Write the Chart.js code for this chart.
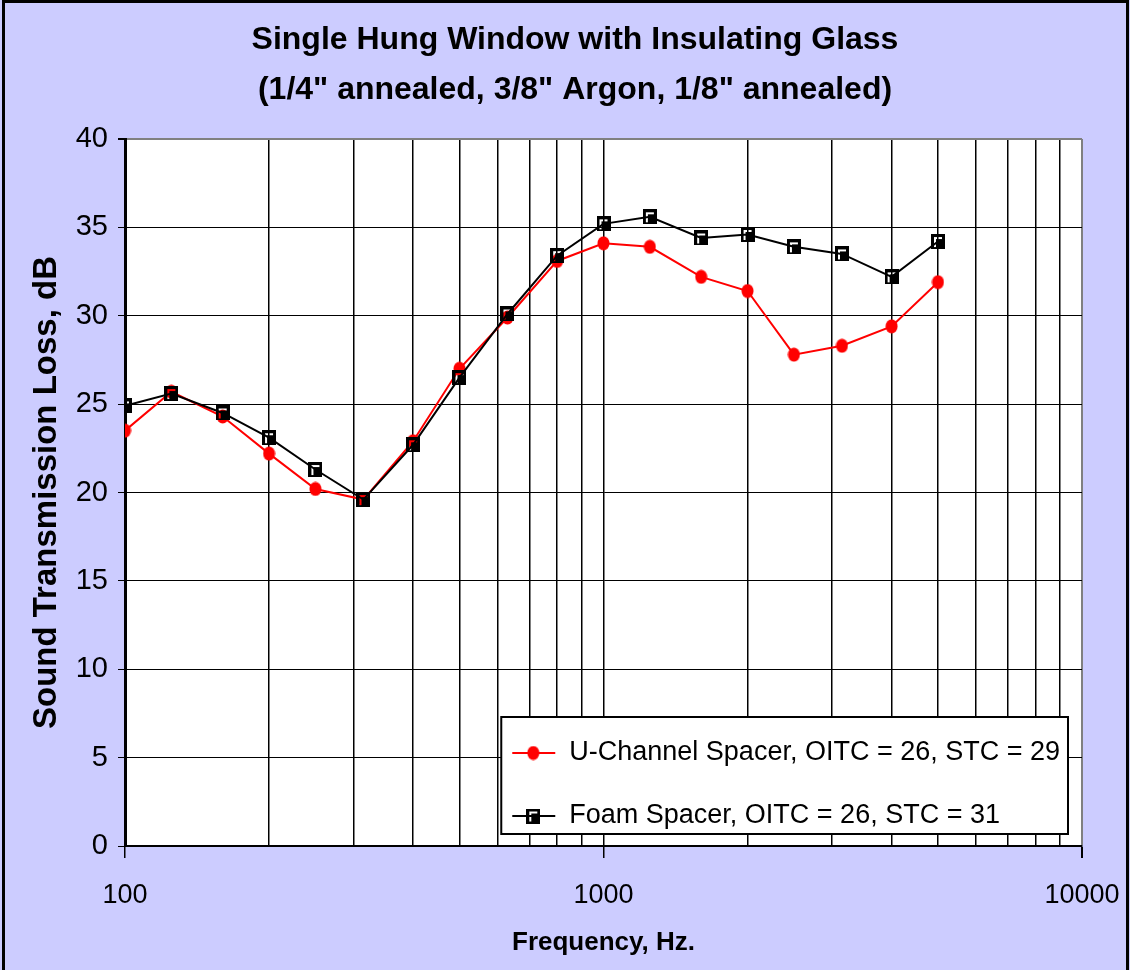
<!DOCTYPE html>
<html>
<head>
<meta charset="utf-8">
<title>Single Hung Window with Insulating Glass</title>
<script src="https://cdn.jsdelivr.net/npm/chart.js@4.4.1/dist/chart.umd.min.js"></script>
<style>
  html, body { margin: 0; padding: 0; background: #ffffff; }
  canvas { display: block; }
</style>
</head>
<body>
<canvas id="stlChart" width="1130" height="970"></canvas>
<script>
// third-octave band centre frequencies, Hz
const freqs = [100, 125, 160, 200, 250, 315, 400, 500, 630, 800, 1000, 1250, 1600, 2000, 2500, 3150, 4000, 5000];
// sound transmission loss, dB
const uChannel = [23.5, 25.7, 24.3, 22.2, 20.2, 19.6, 22.9, 27.0, 29.9, 33.1, 34.1, 33.9, 32.2, 31.4, 27.8, 28.3, 29.4, 31.9];
const foam = [24.9, 25.6, 24.5, 23.1, 21.3, 19.6, 22.7, 26.5, 30.1, 33.4, 35.2, 35.6, 34.4, 34.6, 33.9, 33.5, 32.2, 34.2];

const seriesNames = ['U-Channel Spacer, OITC = 26, STC = 29', 'Foam Spacer, OITC = 26, STC = 31'];
const gridFreqs = [100, 200, 300, 400, 500, 600, 700, 800, 900, 1000, 2000, 3000, 4000, 5000, 6000, 7000, 8000, 9000, 10000];
const labelFreqs = [100, 1000, 10000];

const FONT = '"Liberation Sans", Arial, sans-serif';
Chart.defaults.font.family = FONT;
Chart.defaults.color = '#000';

// marker pictures (red ellipse, black square with a see-through corner)
function redDot() {
  const c = document.createElement('canvas');
  c.width = 13; c.height = 15;
  const x = c.getContext('2d');
  x.fillStyle = '#ff0000';
  x.beginPath();
  x.ellipse(6.5, 7.5, 6, 7, 0, 0, Math.PI * 2);
  x.fill();
  return c;
}
function blackSquare() {
  const c = document.createElement('canvas');
  c.width = 14; c.height = 15;
  const x = c.getContext('2d');
  x.fillStyle = '#000';
  x.fillRect(0, 0, 14, 15);
  x.clearRect(3, 3, 8, 2);
  x.clearRect(3, 3, 2, 10);
  return c;
}
const redMarker = redDot();
const squareMarker = blackSquare();

function toPoints(ys) {
  return freqs.map((f, i) => ({ x: f, y: ys[i] }));
}

// white plot area, lavender page and outer frame
const backdrop = {
  id: 'backdrop',
  afterLayout(chart) {
    // the original title sits a bit right of the canvas centre
    if (chart.titleBlock) {
      chart.titleBlock.left += 34;
      chart.titleBlock.right += 34;
    }
  },
  beforeDraw(chart) {
    const { ctx, chartArea: a, width, height } = chart;
    ctx.save();
    ctx.fillStyle = '#ccccff';
    ctx.fillRect(0, 0, width, height);
    ctx.fillStyle = '#ffffff';
    ctx.fillRect(a.left, a.top, a.right - a.left, a.bottom - a.top);
    ctx.restore();
  },
  afterDraw(chart) {
    const { ctx, width, height } = chart;
    ctx.save();
    ctx.strokeStyle = '#000';
    ctx.lineWidth = 3;
    ctx.strokeRect(3.5, 1.5, width - 6, height);
    ctx.restore();
  }
};

// legend box inside the plot, bottom right
const legendBox = {
  id: 'legendBox',
  afterDatasetsDraw(chart) {
    const { ctx, chartArea } = chart;
    const sets = chart.data.datasets;
    ctx.save();
    ctx.font = '27px ' + FONT;
    const textW = Math.max(...sets.map(d => ctx.measureText(d.label).width));
    const w = 68 + textW + 8;
    const h = 117;
    const x = chartArea.right - 14 - w;
    const y = chartArea.bottom - 12 - h;
    ctx.fillStyle = '#fff';
    ctx.fillRect(x, y, w, h);
    ctx.strokeStyle = '#000';
    ctx.lineWidth = 2;
    ctx.strokeRect(x, y, w, h);
    sets.forEach((d, i) => {
      const ry = y + 36 + i * 63;
      ctx.strokeStyle = d.borderColor;
      ctx.lineWidth = d.borderWidth;
      ctx.beginPath();
      ctx.moveTo(x + 11, ry);
      ctx.lineTo(x + 54, ry);
      ctx.stroke();
      const m = d.pointStyle;
      ctx.drawImage(m, x + 32 - m.width / 2, ry - m.height / 2);
      ctx.fillStyle = '#000';
      ctx.textBaseline = 'middle';
      ctx.textAlign = 'left';
      ctx.fillText(d.label, x + 68, ry);
    });
    ctx.restore();
  }
};

const ctx = document.getElementById('stlChart').getContext('2d');

new Chart(ctx, {
  type: 'line',
  data: {
    datasets: [{
      label: seriesNames[0],
      data: toPoints(uChannel),
      borderColor: '#ff0000',
      backgroundColor: '#ff0000',
      borderWidth: 2,
      pointStyle: redMarker,
      order: 2
    }, {
      label: seriesNames[1],
      data: toPoints(foam),
      borderColor: '#000000',
      backgroundColor: '#000000',
      borderWidth: 2,
      pointStyle: squareMarker,
      order: 1
    }]
  },
  options: {
    responsive: false,
    animation: false,
    events: [],
    layout: { padding: { left: 0, right: 48, top: 0, bottom: 0 } },
    plugins: {
      legend: { display: false },
      tooltip: { enabled: false },
      title: {
        display: true,
        text: ['Single Hung Window with Insulating Glass', '(1/4" annealed, 3/8" Argon, 1/8" annealed)'],
        color: '#000',
        font: { size: 32, weight: 'bold', lineHeight: 50 / 32 },
        padding: { top: 15, bottom: 24 }
      }
    },
    scales: {
      x: {
        type: 'logarithmic',
        min: 100,
        max: 10000,
        afterBuildTicks(scale) {
          scale.ticks = gridFreqs.map(v => ({ value: v, major: labelFreqs.includes(v) }));
        },
        afterFit(scale) {
          scale.height = 124;
          scale.paddingLeft = 0;
          scale.paddingRight = 0;
        },
        ticks: {
          autoSkip: false,
          maxRotation: 0,
          padding: 21,
          font: { size: 27 },
          callback: v => labelFreqs.includes(v) ? String(v) : ''
        },
        grid: {
          color: c => c.tick && c.tick.value === 10000 ? '#808080' : '#000',
          lineWidth: c => c.tick && c.tick.value === 10000 ? 2 : 1.5,
          tickLength: 12,
          tickColor: c => c.tick && labelFreqs.includes(c.tick.value) ? '#000' : 'rgba(0,0,0,0)'
        },
        border: { color: '#000', width: 2 },
        title: {
          display: true,
          text: 'Frequency, Hz.',
          font: { size: 26, weight: 'bold' },
          padding: { top: 0, bottom: 12 }
        }
      },
      y: {
        min: 0,
        max: 40,
        afterFit(scale) { scale.width = 125; },
        ticks: {
          stepSize: 5,
          padding: 10,
          font: { size: 29 }
        },
        grid: {
          color: c => c.tick && c.tick.value === 40 ? '#808080' : '#000',
          lineWidth: c => c.tick && c.tick.value === 40 ? 2 : 1,
          tickLength: 7,
          tickColor: '#000'
        },
        border: { color: '#000', width: 3 },
        title: {
          display: true,
          text: 'Sound Transmission Loss, dB',
          font: { size: 33, weight: 'bold' },
          padding: { top: 27, bottom: 0 }
        }
      }
    }
  },
  plugins: [backdrop, legendBox]
});
</script>
</body>
</html>
